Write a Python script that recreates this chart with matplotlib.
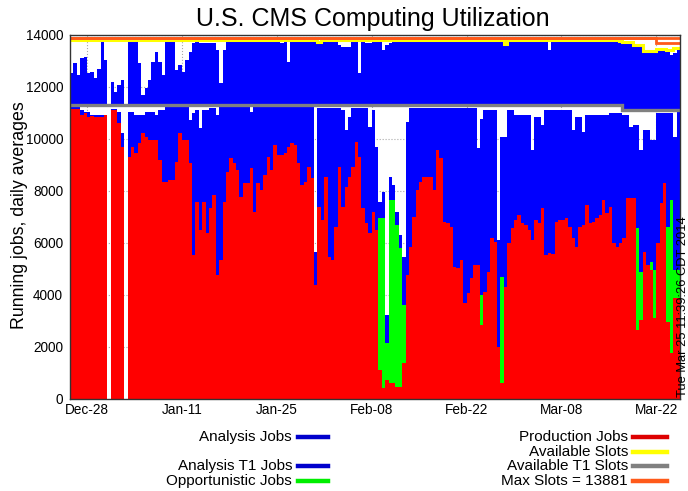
import numpy as np
import matplotlib
matplotlib.use("Agg")
import matplotlib.pyplot as plt
import matplotlib.dates as mdates
from matplotlib.lines import Line2D

plt.rcParams['font.family'] = ['Liberation Sans', 'DejaVu Sans']

# ---------------- data (half-day bins, 2013-12-25 12:00 -> 2014-03-25 12:00) ----------------
start_time = '2013-12-25T12:00'
n_bins = 180

production = [
    11141, 11141, 11141, 10923, 10987, 10833, 10884, 10833, 10833, 10833,
    10910, 0, 11115, 11115, 10602, 9705, 0, 9320, 9705, 9448,
    9833, 10218, 10090, 9961, 9961, 9961, 9192, 8359, 8359, 8423,
    8423, 9128, 10218, 9961, 9961, 9064, 5538, 7589, 6500, 7589,
    6372, 7333, 7846, 4769, 5346, 7589, 8743, 9256, 9064, 8807,
    7782, 8295, 8295, 8871, 7205, 8295, 8038, 8615, 9320, 8807,
    9769, 9384, 9384, 9448, 9705, 9833, 9769, 9064, 8230, 8359,
    8936, 8487, 4384, 7397, 6884, 8551, 5474, 5346, 6628, 8936,
    7397, 8166, 8551, 8936, 9897, 9320, 7333, 6756, 6372, 7205,
    6500, 1115, 410, 731, 603, 603, 474, 474, 1372, 4769,
    5859, 7013, 8038, 8359, 8551, 8551, 8551, 8038, 9577, 9256,
    6820, 6756, 6628, 5090, 5025, 5346, 3679, 4064, 4641, 5154,
    5154, 2846, 4128, 4897, 6179, 6051, 2013, 603, 4320, 5987,
    6564, 6884, 7077, 6756, 6692, 6500, 6115, 6884, 6756, 7333,
    5538, 5602, 5577, 6820, 6884, 6884, 6948, 6628, 6179, 5859,
    6628, 6692, 7461, 6756, 6820, 6948, 7077, 7654, 7141, 7397,
    5987, 5859, 5987, 6179, 7718, 7718, 7718, 2654, 3038, 5666,
    5154, 4961, 3115, 5987, 7538, 8295, 2961, 1769, 3872, 3872,
]

opportunistic = [
    0, 0, 0, 0, 0, 0, 0, 0, 0, 0,
    0, 0, 0, 0, 0, 0, 0, 0, 0, 0,
    0, 0, 0, 0, 0, 0, 0, 0, 0, 0,
    0, 0, 0, 0, 0, 0, 0, 0, 0, 0,
    0, 0, 0, 0, 0, 0, 0, 0, 0, 0,
    0, 0, 0, 0, 0, 0, 0, 0, 0, 0,
    0, 0, 0, 0, 0, 0, 0, 0, 0, 0,
    0, 0, 0, 0, 0, 0, 0, 0, 0, 0,
    0, 0, 0, 0, 0, 0, 0, 0, 0, 0,
    0, 5830, 6540, 1410, 7050, 7050, 6220, 5320, 2240, 0,
    0, 0, 0, 0, 0, 0, 0, 0, 0, 0,
    0, 0, 0, 0, 0, 0, 0, 0, 0, 0,
    0, 1150, 0, 0, 0, 0, 0, 4100, 0, 0,
    0, 0, 0, 0, 0, 0, 0, 0, 0, 0,
    0, 0, 0, 0, 0, 0, 0, 0, 0, 0,
    0, 0, 0, 0, 0, 0, 0, 0, 0, 0,
    0, 0, 0, 0, 0, 0, 0, 3910, 1850, 0,
    0, 320, 1850, 0, 0, 0, 3650, 5890, 1090, 1090,
]

analysis = [
    80, 80, 80, 190, 60, 220, 40, 90, 90, 90,
    10, 0, 30, 30, 450, 510, 0, 1730, 1350, 1480,
    1090, 700, 960, 1090, 1090, 960, 1920, 2760, 2860, 2800,
    2800, 2120, 1030, 1280, 1260, 1670, 5450, 3530, 3910, 3530,
    4740, 3850, 3330, 6150, 5900, 3650, 2500, 1990, 2180, 2440,
    3460, 2950, 2950, 2180, 4040, 2950, 3210, 2630, 1920, 2440,
    1450, 1830, 1830, 1770, 1510, 1390, 1450, 2150, 2990, 2860,
    2280, 2730, 1280, 3810, 4320, 2650, 5730, 5860, 4580, 2270,
    3720, 2180, 2310, 2240, 1280, 1860, 3850, 4420, 4100, 3910,
    3210, 640, 1030, 1090, 900, 580, 510, 510, 1860, 5900,
    5320, 4170, 3140, 2820, 2630, 2630, 2630, 3140, 1600, 1920,
    4360, 4420, 4550, 6090, 6150, 5830, 7500, 7120, 6540, 6030,
    4490, 6790, 6990, 6220, 4940, 5060, 4100, 5390, 5770, 5130,
    4550, 4040, 3850, 4170, 4230, 4420, 3460, 3980, 4100, 3210,
    5580, 5510, 5540, 4300, 4230, 4230, 4170, 4490, 4170, 5000,
    4230, 3590, 3460, 4170, 4100, 3980, 3850, 3270, 3780, 3590,
    5000, 5130, 5000, 4740, 3210, 2760, 2820, 3970, 4690, 4680,
    5190, 4680, 5000, 5000, 3450, 2690, 4370, 3330, 5130, 6090,
]

analysis_t1 = [
    1220, 1600, 1150, 1800, 1860, 1220, 1280, 1030, 1390, 2440,
    1730, 0, 900, 510, 770, 960, 0, 2440, 2440, 2440,
    1600, 390, 640, 960, 1670, 2050, 1670, 1150, 2440, 2440,
    2440, 1350, 1540, 1280, 1730, 2050, 2370, 2440, 2400, 2400,
    2400, 2400, 2400, 2120, 830, 2120, 2440, 2440, 2440, 2440,
    2440, 2440, 2440, 2440, 2440, 2440, 2440, 2440, 2440, 2440,
    2440, 2440, 2370, 2440, 1670, 2440, 2440, 2440, 2440, 2440,
    2440, 2440, 2440, 2370, 2440, 2440, 2440, 2440, 2440, 2310,
    2240, 2240, 2240, 2440, 2440, 1220, 2440, 2370, 2370, 2440,
    2440, 2440, 2120, 2310, 2370, 2440, 2440, 2440, 2440, 2440,
    2440, 2440, 2440, 2440, 2440, 2440, 2440, 2440, 2440, 2440,
    2440, 2440, 2440, 2440, 2440, 2440, 2440, 2440, 2440, 2440,
    2440, 2440, 2440, 2440, 2440, 2440, 2440, 2440, 2310, 2440,
    2440, 2440, 2440, 2440, 2440, 2440, 2440, 2440, 2440, 2440,
    2440, 2120, 2440, 2440, 2440, 2440, 2440, 2440, 2440, 2440,
    2440, 2440, 2440, 2440, 2440, 2440, 2440, 2440, 2440, 2440,
    2440, 2440, 2440, 2570, 2570, 2570, 2440, 2440, 2440, 2240,
    2240, 2240, 2240, 2310, 2310, 2310, 2290, 2120, 2200, 2400,
]

available_t1_slots = [11307] * 163 + [11115] * 17

available_slots = (
    [13800] * 73 + [13740] + [13800] * 54 + [13650] + [13800] * 33
    + [13760] + [13720] * 3 + [13600] * 3 + [13400] * 4
    + [13470] * 3 + [13440] * 2 + [13500] * 2
)

max_slots = [13881] * 180
max_slots_current = [13881] * 173 + [13690] * 7

tick_dates = ['2013-12-28', '2014-01-11', '2014-01-25', '2014-02-08',
              '2014-02-22', '2014-03-08', '2014-03-22']
tick_labels = ['Dec-28', 'Jan-11', 'Jan-25', 'Feb-08', 'Feb-22', 'Mar-08', 'Mar-22']

yticks = [0, 2000, 4000, 6000, 8000, 10000, 12000, 14000]

legend_left = [('Analysis Jobs', '#0000cc', 0), ('Analysis T1 Jobs', '#0000cc', 2),
               ('Opportunistic Jobs', '#00ee00', 3)]
legend_right = [('Production Jobs', '#dd0000', 0), ('Available Slots', '#ffff00', 1),
                ('Available T1 Slots', '#808080', 2), ('Max Slots = 13881', '#ff5a1a', 3)]

# ---------------- figure ----------------
W, H = 688, 491
fig = plt.figure(figsize=(W / 100, H / 100), dpi=100)
ax = fig.add_axes([70 / W, 1 - 399 / H, 610 / W, 364 / H])

edges_dt = np.datetime64(start_time) + np.arange(n_bins + 1) * np.timedelta64(12, 'h')
edges = mdates.date2num(edges_dt)

prod = np.array(production, float)
opp = np.array(opportunistic, float)
ana = np.array(analysis, float)
t1 = np.array(analysis_t1, float)
t1base = np.array(available_t1_slots, float)

RED, GREEN, BLUE = '#ff0000', '#00ff00', '#0000ff'
ax.stairs(prod, edges, baseline=0, fill=True, color=RED, lw=0, zorder=2)
ax.stairs(prod + opp, edges, baseline=prod, fill=True, color=GREEN, lw=0, zorder=2)
ax.stairs(prod + opp + ana, edges, baseline=prod + opp, fill=True, color=BLUE, lw=0, zorder=2)
ax.stairs(t1base + t1, edges, baseline=t1base, fill=True, color=BLUE, lw=0, zorder=2)

ax.stairs(t1base, edges, baseline=None, color='#808080', lw=2.4, zorder=3)
ax.stairs(np.array(available_slots, float), edges, baseline=None, color='#ffff00', lw=2.2, zorder=3)
ax.stairs(np.array(max_slots_current, float), edges, baseline=None, color='#ff5a1a', lw=2.0, zorder=4)
ax.stairs(np.array(max_slots, float), edges, baseline=None, color='#ff5a1a', lw=2.0, zorder=4)

ax.set_xlim(edges[0], edges[-1])
ax.set_ylim(0, 14000)
ax.set_yticks(yticks)
ax.set_yticklabels([str(v) for v in yticks])
ax.set_xticks(mdates.date2num(np.array(tick_dates, dtype='datetime64[D]')))
ax.set_xticklabels(tick_labels)
ax.tick_params(axis='both', length=0, labelsize=9.8, colors='#000000')
ax.tick_params(axis='y', pad=5)
ax.tick_params(axis='x', pad=3)
ax.grid(True, color='#aaaaaa', linestyle=':', lw=0.8)
ax.set_axisbelow(True)
for s in ax.spines.values():
    s.set_color('#333333')
    s.set_linewidth(1.0)
    s.set_zorder(5)

fig.text(373 / W, 1 - 19 / H, 'U.S. CMS Computing Utilization', ha='center', va='center', fontsize=18)
fig.text(20 / W, 1 - 215 / H, 'Running jobs, daily averages', ha='center', va='center',
         rotation=90, fontsize=12.8)
fig.text(682.5 / W, 1 - 397 / H, 'Tue Mar 25 11:39:26 CDT 2014', ha='center', va='bottom',
         rotation=90, fontsize=9.3)

row_y = [437, 452, 466, 481]
for label, col, r in legend_left:
    y = 1 - row_y[r] / H
    fig.text(292 / W, y, label, ha='right', va='center', fontsize=11)
    fig.add_artist(Line2D([298 / W, 328 / W], [y, y], color=col, lw=3.2, transform=fig.transFigure))
for label, col, r in legend_right:
    y = 1 - row_y[r] / H
    fig.text(628 / W, y, label, ha='right', va='center', fontsize=11)
    fig.add_artist(Line2D([633 / W, 667 / W], [y, y], color=col, lw=3.2, transform=fig.transFigure))

fig.savefig('out.png', dpi=100)
